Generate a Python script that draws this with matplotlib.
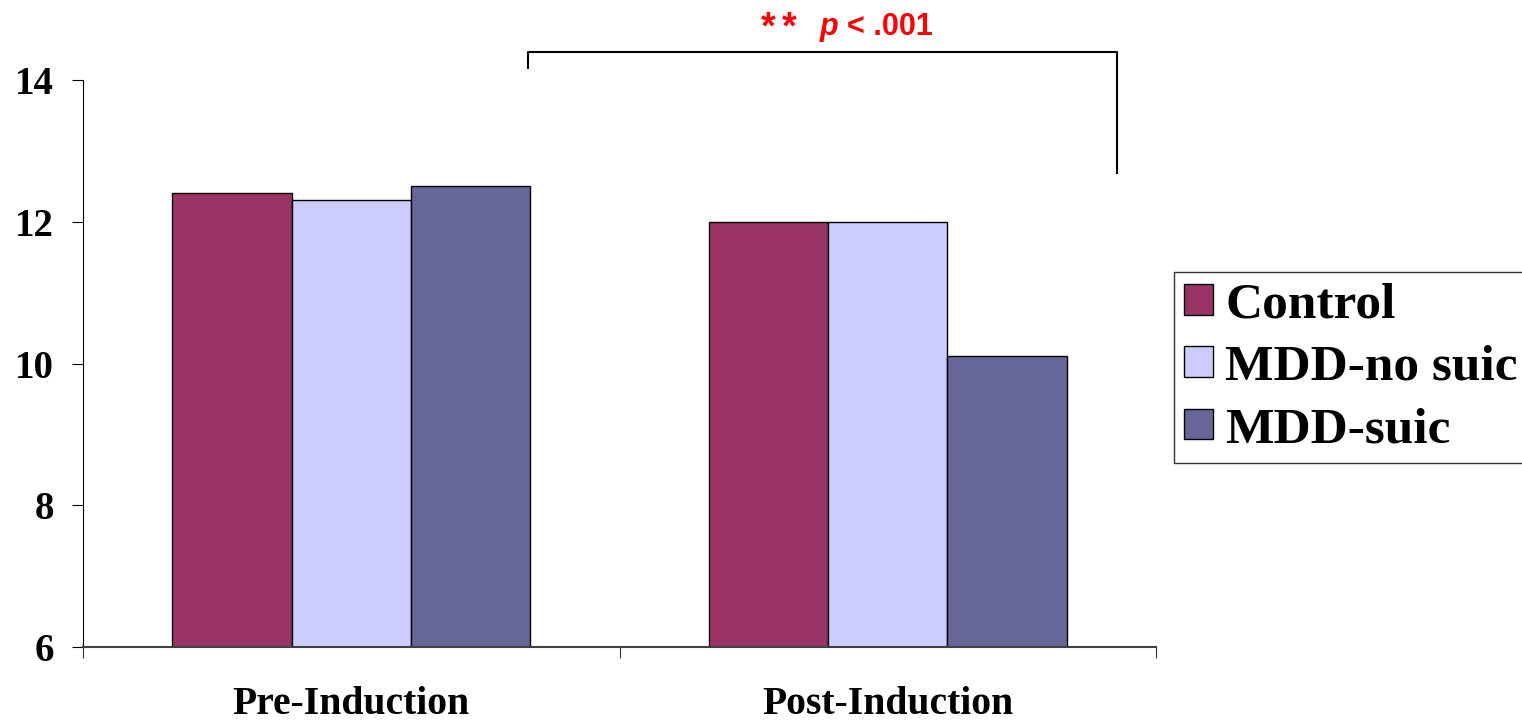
import matplotlib
matplotlib.use("Agg")
import matplotlib.pyplot as plt
import numpy as np

categories = ["Pre-Induction", "Post-Induction"]
groups = ["Control", "MDD-no suic", "MDD-suic"]
control = [12.4, 12.0]
mdd_no_suic = [12.3, 12.0]
mdd_suic = [12.5, 10.1]
yticks = [6, 8, 10, 12, 14]

colors = ["#993366", "#CCCCFF", "#666699"]
serif = "Liberation Serif"
sans = "Liberation Sans"

fig = plt.figure(figsize=(15.22, 7.21), dpi=100)
ax = fig.add_axes([83/1522, 1-647/721, (1156-83)/1522, (647-80)/721])

x = np.arange(len(categories))
width = 1/4.5
series = [control, mdd_no_suic, mdd_suic]
for i, (name, vals) in enumerate(zip(groups, series)):
    ax.bar(x + (i-1)*width, vals, width, bottom=0, color=colors[i],
           edgecolor="black", linewidth=1, label=name, zorder=2)

ax.set_xlim(-0.5, 1.5)
ax.set_ylim(6, 14)
ax.set_yticks(yticks)
ax.set_yticklabels([str(t) for t in yticks], fontfamily=serif,
                   fontweight="bold", fontsize=28)
ax.set_xticks([-0.5, 0.5, 1.5])
ax.set_xticklabels([])
ax.set_xticks(x, minor=True)
ax.set_xticklabels(categories, minor=True, fontfamily=serif,
                   fontweight="bold", fontsize=28.5)
ax.tick_params(axis="x", which="minor", length=0, pad=28)
ax.tick_params(axis="x", which="major", length=8, direction="out", color="#333333")
ax.tick_params(axis="y", length=8, direction="out", pad=13)

for s in ["top", "right"]:
    ax.spines[s].set_visible(False)
ax.spines["left"].set_color("black")
ax.spines["bottom"].set_color("#404040")
ax.spines["bottom"].set_linewidth(1.5)

# significance bracket
bx0, bx1 = 0.33, 1.428
ytop = 14.39
ax.plot([bx0, bx0, bx1, bx1], [14.17, ytop, ytop, 12.69], color="black",
        linewidth=1.5, clip_on=False)

# p-value text
ytxt = 1 - 35/721
for ax_px in (761, 782):
    fig.text(ax_px/1522, ytxt - 3/721, "*", color="red", fontfamily=sans,
             fontweight="bold", fontsize=27, va="baseline", ha="left")
fig.text(820/1522, ytxt, "p", color="red", fontfamily=sans, fontweight="bold",
         fontstyle="italic", fontsize=22, va="baseline", ha="left")
fig.text(847/1522, ytxt, "< .001", color="red", fontfamily=sans, fontweight="bold",
         fontsize=22, va="baseline", ha="left")

leg = ax.legend(loc="upper left", bbox_to_anchor=(1174/1522, 1-272/721),
                bbox_transform=fig.transFigure, frameon=True, fancybox=False,
                prop={"family": serif, "weight": "bold", "size": 37},
                handlelength=0.55, handleheight=0.55, handletextpad=0.25,
                labelspacing=0.32, borderpad=0.2, borderaxespad=0)
leg.get_frame().set_edgecolor("black")
leg.get_frame().set_linewidth(1)

fig.savefig("out.png", dpi=100)
